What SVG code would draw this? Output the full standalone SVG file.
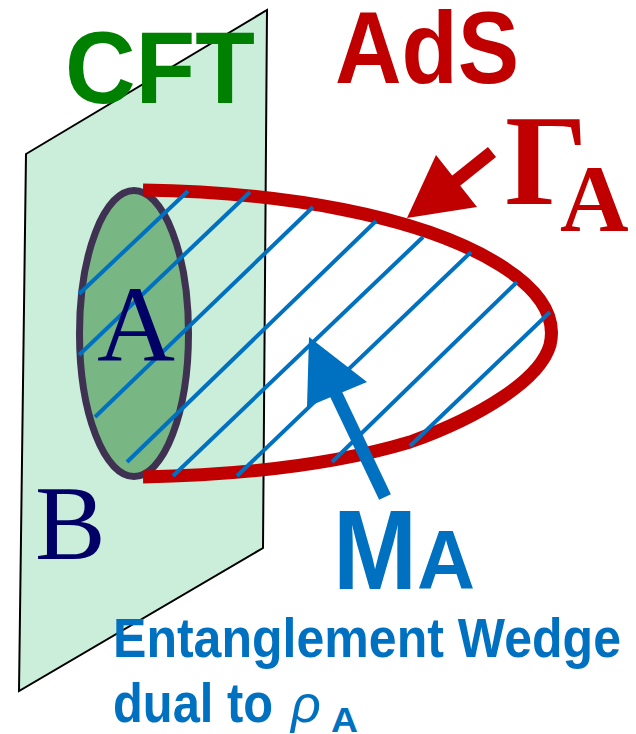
<svg xmlns="http://www.w3.org/2000/svg" width="636" height="734" viewBox="0 0 636 734">
<style>
.hatch{stroke:#0070c0;stroke-width:4;fill:none}
.sans{font-family:"Liberation Sans",Arial,sans-serif;font-weight:bold}
.serif{font-family:"Liberation Serif","Times New Roman",serif}
.blue{fill:#0070c0}
.red{fill:#c00000}
.navy{fill:#000066}
</style>
<rect width="636" height="734" fill="#ffffff"/>
<g id="cft-plane">
<polygon points="26,154 267,10 263,548 19,691" fill="#cbeedb" stroke="#000000" stroke-width="2" stroke-linejoin="miter"/>
</g>
<g id="label-cft">
<text class="sans" x="65" y="103" font-size="102" fill="#008000" textLength="190" lengthAdjust="spacingAndGlyphs">CFT</text>
</g>
<g id="label-ads">
<text class="sans red" x="335" y="83" font-size="102" textLength="184" lengthAdjust="spacingAndGlyphs">AdS</text>
</g>
<g id="region-a">
<ellipse cx="134" cy="333.5" rx="54.5" ry="143" fill="#78b784" stroke="#3f3151" stroke-width="7"/>
</g>
<g id="surface-gamma">
<path d="M143,190 C280,192 420,215 500,265 C545,293 556,320 550,345 C540,380 480,417 410,442 C330,466 240,475 143,477" fill="none" stroke="#c00000" stroke-width="13"/>
</g>
<g id="wedge-hatch">
<line class="hatch" x1="188" y1="191" x2="79" y2="294"/>
<line class="hatch" x1="250" y1="192" x2="79" y2="355"/>
<line class="hatch" x1="313" y1="207" x2="95" y2="417"/>
<line class="hatch" x1="376" y1="221" x2="127" y2="462"/>
<line class="hatch" x1="423" y1="237" x2="173" y2="476"/>
<line class="hatch" x1="471" y1="252" x2="237" y2="476"/>
<line class="hatch" x1="517" y1="282" x2="332" y2="462"/>
<line class="hatch" x1="550" y1="312" x2="410" y2="446"/>
</g>
<g id="label-A">
<text class="serif navy" x="136" y="361" font-size="108" text-anchor="middle">A</text>
</g>
<g id="label-B">
<text class="serif navy" x="35" y="559" font-size="106">B</text>
</g>
<g id="connectors">
<line x1="492" y1="152" x2="452" y2="184" stroke="#c00000" stroke-width="13"/>
<polygon points="407,218 436,155 477,207" fill="#c00000"/>
<line x1="385" y1="497" x2="335" y2="392" stroke="#0070c0" stroke-width="13"/>
<polygon points="309,337 307,407 367,382" fill="#0070c0"/>
</g>
<g id="label-gamma">
<text class="serif red" x="505" y="204" font-size="130" font-weight="bold">Γ</text>
<text class="serif red" x="560" y="231" font-size="95" font-weight="bold">A</text>
</g>
<g id="label-MA">
<text class="sans blue" x="333" y="589" font-size="113" textLength="84" lengthAdjust="spacingAndGlyphs">M</text>
<text class="sans blue" x="417" y="589" font-size="84" textLength="58" lengthAdjust="spacingAndGlyphs">A</text>
</g>
<g id="label-wedge">
<text class="sans blue" x="113" y="657" font-size="56" textLength="508" lengthAdjust="spacingAndGlyphs">Entanglement Wedge</text>
<text class="sans blue" x="113" y="722" font-size="56" textLength="160" lengthAdjust="spacingAndGlyphs">dual to</text>
<text class="blue" x="291" y="722" font-size="52" font-style="italic" font-family="'Liberation Sans',Arial,sans-serif">ρ</text>
<text class="sans blue" x="331" y="732" font-size="35" textLength="27" lengthAdjust="spacingAndGlyphs">A</text>
</g>
</svg>
